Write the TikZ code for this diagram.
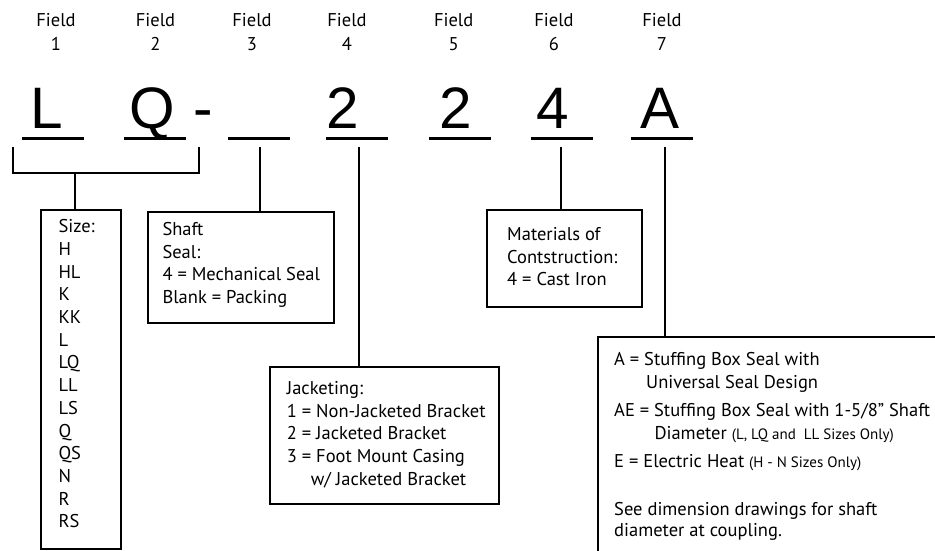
\documentclass[tikz,border=0pt]{standalone}
\usepackage{fontspec}
\setmainfont{PT Sans}
\newfontfamily\bigfont{Liberation Sans}
\newcommand\parentxt[1]{{\fontsize{15}{15}\selectfont #1}}
\begin{document}
\begin{tikzpicture}[x=1pt,y=-1pt,
  lbl/.style={font=\fontsize{18.5}{18.5}\selectfont, inner sep=0pt, anchor=base},
  big/.style={font=\bigfont\fontsize{58.5}{58.5}\selectfont, inner sep=0pt, anchor=base},
  uline/.style={line width=3pt},
  conn/.style={line width=1.8pt},
  boxrect/.style={draw, line width=1.8pt, anchor=north west, inner sep=0pt},
  txt/.style={font=\fontsize{18.5}{18.5}\selectfont, inner sep=0pt, anchor=base west}]
\clip (0,0) rectangle (935,550);
\fill[white] (0,0) rectangle (935,550);
% field labels
\foreach \n/\x in {1/56,2/155.5,3/252,4/347,5/453.7,6/554,7/662}{
  \node[lbl] (f\n) at (\x,26) {Field};
  \node[lbl] (n\n) at (\x,50) {\n};
}
% big letters
\node[big] (g1) at (47,128) {L};
\node[big] (g2) at (152,128) {Q};
\node[big] (gd) at (203,128) {-};
\node[big] (g4) at (343,128) {2};
\node[big] (g5) at (456,128) {2};
\node[big] (g6) at (552.5,128) {4};
\node[big] (g7) at (660.5,128) {A};
% underlines
\foreach \n/\a/\b in {1/22/84,2/124/186,3/228/290,4/326/388,5/429/491,6/531/593,7/631/693}{
  \coordinate (ua\n) at (\a,138);
  \coordinate (ub\n) at (\b,138);
  \draw[uline] (ua\n) -- (ub\n);
}
% boxes
\node[boxrect, minimum width=80pt, minimum height=339pt] (sizebox) at (40,209) {};
\node[boxrect, minimum width=186pt, minimum height=111pt] (shaftbox) at (147,211) {};
\node[boxrect, minimum width=229pt, minimum height=137pt] (jackbox) at (269,366) {};
\node[boxrect, minimum width=155pt, minimum height=97pt] (matbox) at (486,209) {};
\node[boxrect, minimum width=360pt, minimum height=240pt] (optbox) at (597,336) {};
% connectors
\coordinate (bl) at (12.7,147);
\coordinate (br) at (199.3,147);
\coordinate (bj) at (75,173.3);
\draw[conn] (bl) |- (bj) -| (br);
\draw[conn] (bj) -- (sizebox.north -| bj);
\coordinate (c3) at (259.7,147);
\coordinate (c4) at (359.3,147);
\coordinate (c6) at (561.3,147);
\coordinate (c7) at (664.7,147);
\draw[conn] (c3) -- (shaftbox.north -| c3);
\draw[conn] (c4) -- (jackbox.north -| c4);
\draw[conn] (c6) -- (matbox.north -| c6);
\draw[conn] (c7) -- (optbox.north -| c7);
% size list
\foreach \t [count=\i from 0] in {Size:,H,HL,K,KK,L,LQ,LL,LS,Q,QS,N,R,RS}{
  \node[txt] (s\i) at (58.3,232.7+22.7*\i) {\t};
}
% shaft
\node[txt] (sh1) at (162.3,235.7) {Shaft};
\node[txt] (sh2) at (162.3,258.2) {Seal:};
\node[txt] (sh3) at (162.3,280.7) {4 = Mechanical Seal};
\node[txt] (sh4) at (162.3,303.2) {Blank = Packing};
% jacketing
\node[txt] (j1) at (286.7,394) {Jacketing:};
\node[txt] (j2) at (286.7,417) {1 = Non-Jacketed Bracket};
\node[txt] (j3) at (286.7,439.5) {2 = Jacketed Bracket};
\node[txt] (j4) at (286.7,462) {3 = Foot Mount Casing};
\node[txt] (j5) at (310.7,485) {w/ Jacketed Bracket};
% materials
\node[txt] (m1) at (507,240.7) {Materials of};
\node[txt] (m2) at (507,263) {Contstruction:};
\node[txt] (m3) at (507,285.3) {4 = Cast Iron};
% options
\node[txt] (o1) at (614,365) {A = Stuffing Box Seal with};
\node[txt] (o2) at (646,388.3) {Universal Seal Design};
\node[txt] (o3) at (614,416.7) {AE = Stuffing Box Seal with 1-5/8\symbol{34} Shaft};
\node[txt] (o4) at (654.3,439) {Diameter \parentxt{(L, LQ and\ \ LL Sizes Only)}};
\node[txt] (o5) at (614,467.7) {E = Electric Heat \parentxt{(H - N Sizes Only)}};
\node[txt] (o6) at (614,515) {See dimension drawings for shaft};
\node[txt] (o7) at (614,536.7) {diameter at coupling.};
\end{tikzpicture}
\end{document}
